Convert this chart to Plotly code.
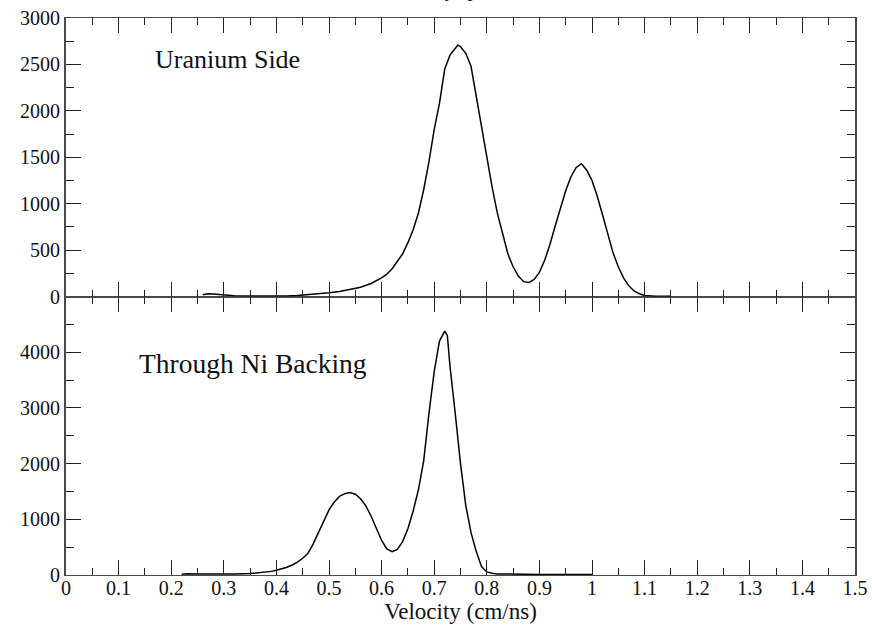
import plotly.graph_objects as go

# Velocity spectrum, uranium side of the target
uranium_v = [0.26, 0.27, 0.28, 0.29, 0.30, 0.32, 0.34, 0.36, 0.38, 0.40, 0.42, 0.44,
             0.46, 0.48, 0.50, 0.52, 0.54, 0.56, 0.58, 0.60, 0.61, 0.62, 0.63, 0.64,
             0.65, 0.66, 0.67, 0.68, 0.69, 0.70, 0.71, 0.72, 0.73, 0.74, 0.745, 0.75,
             0.76, 0.77, 0.78, 0.79, 0.80, 0.81, 0.82, 0.83, 0.84, 0.85, 0.86, 0.87,
             0.88, 0.89, 0.90, 0.91, 0.92, 0.93, 0.94, 0.95, 0.96, 0.97, 0.98, 0.99,
             1.00, 1.01, 1.02, 1.03, 1.04, 1.05, 1.06, 1.07, 1.08, 1.09, 1.10, 1.12,
             1.15]
uranium_counts = [20, 30, 28, 22, 15, 8, 5, 3, 2, 3, 5, 10,
                  18, 28, 40, 55, 75, 100, 140, 200, 240, 300, 380, 460,
                  580, 720, 900, 1150, 1450, 1800, 2080, 2450, 2600, 2680, 2710, 2690,
                  2620, 2480, 2150, 1800, 1480, 1180, 900, 680, 460, 320, 220, 160,
                  150, 185, 260, 390, 560, 760, 960, 1140, 1290, 1390, 1430, 1360,
                  1250, 1080, 880, 670, 470, 320, 200, 115, 60, 30, 12, 4,
                  2]

# Velocity spectrum measured through the Ni backing
nickel_v = [0.22, 0.23, 0.25, 0.27, 0.30, 0.32, 0.35, 0.37, 0.39, 0.40, 0.41, 0.42,
            0.43, 0.44, 0.45, 0.46, 0.47, 0.48, 0.49, 0.50, 0.51, 0.52, 0.53, 0.54,
            0.55, 0.56, 0.57, 0.58, 0.59, 0.60, 0.61, 0.62, 0.63, 0.64, 0.65, 0.66,
            0.67, 0.68, 0.69, 0.70, 0.71, 0.72, 0.725, 0.73, 0.74, 0.75, 0.76, 0.77,
            0.78, 0.79, 0.80, 0.81, 0.82, 0.85, 0.90, 0.95, 1.00]
nickel_counts = [15, 22, 20, 18, 20, 18, 25, 40, 65, 85, 110, 140,
                 180, 230, 300, 390, 560, 760, 960, 1170, 1310, 1410, 1460, 1480,
                 1450, 1370, 1240, 1060, 840, 620, 470, 420, 460, 600, 830, 1150,
                 1530, 2050, 2900, 3650, 4200, 4380, 4300, 3750, 2900, 2000, 1250, 760,
                 420, 150, 55, 30, 20, 12, 10, 9, 8]

x_ticks = [round(0.1 * i, 1) for i in range(16)]
x_labels = ["0", "0.1", "0.2", "0.3", "0.4", "0.5", "0.6", "0.7", "0.8", "0.9",
            "1", "1.1", "1.2", "1.3", "1.4", "1.5"]
top_y_ticks = [0, 500, 1000, 1500, 2000, 2500, 3000]
bottom_y_ticks = [0, 1000, 2000, 3000, 4000]

SERIF = "Liberation Serif"
AXIS_COLOR = "#4a4a4a"
TICK_COLOR = "#222222"
TEXT_COLOR = "#111111"

fig = go.Figure()
fig.add_trace(go.Scatter(x=uranium_v, y=uranium_counts, mode="lines",
                         line=dict(color="black", width=1.5),
                         xaxis="x2", yaxis="y2", showlegend=False))
fig.add_trace(go.Scatter(x=nickel_v, y=nickel_counts, mode="lines",
                         line=dict(color="black", width=1.5),
                         xaxis="x", yaxis="y", showlegend=False))

common_x = dict(range=[0, 1.5], ticks="inside", ticklen=15, tickwidth=1,
                tickcolor=TICK_COLOR, showline=True, linecolor=AXIS_COLOR,
                linewidth=1, mirror="allticks", showgrid=False, zeroline=False,
                automargin=False,
                tickmode="array", tickvals=x_ticks, ticktext=x_labels,
                minor=dict(ticks="inside", ticklen=7, tickcolor=TICK_COLOR,
                           tickmode="linear", tick0=0, dtick=0.05, showgrid=False))
common_y = dict(ticks="inside", ticklen=15, tickwidth=1, tickcolor=TICK_COLOR,
                showline=True, linecolor=AXIS_COLOR, linewidth=1.8,
                mirror="allticks", showgrid=False, zeroline=False,
                automargin=False,
                tickfont=dict(family=SERIF, size=20, color=TEXT_COLOR))

fig.update_layout(
    width=872, height=627,
    margin=dict(l=66, r=17, t=18, b=52, autoexpand=False),
    paper_bgcolor="white", plot_bgcolor="white",
    font=dict(family=SERIF, color=TEXT_COLOR),
    xaxis=dict(common_x, anchor="y", domain=[0, 1], ticklabelstandoff=-5,
               tickfont=dict(family=SERIF, size=20, color=TEXT_COLOR),
               title=dict(text="Velocity (cm/ns)", standoff=0,
                          font=dict(family=SERIF, size=23, color=TEXT_COLOR))),
    xaxis2=dict(common_x, anchor="y2", matches="x", showticklabels=False),
    yaxis=dict(common_y, domain=[0, 0.5], range=[0, 5000], anchor="x",
               tickmode="array", tickvals=bottom_y_ticks,
               minor=dict(ticks="inside", ticklen=8, tickcolor=TICK_COLOR,
                          tickmode="linear", tick0=0, dtick=500, showgrid=False)),
    yaxis2=dict(common_y, domain=[0.5, 1], range=[0, 3000], anchor="x2",
                tickmode="array", tickvals=top_y_ticks,
                minor=dict(ticks="inside", ticklen=8, tickcolor=TICK_COLOR,
                           tickmode="linear", tick0=0, dtick=250, showgrid=False)),
    annotations=[
        dict(text="Uranium Side", x=0.165, y=2550, xref="x2", yref="y2",
             xanchor="left", yanchor="middle", showarrow=False,
             font=dict(family=SERIF, size=26, color=TEXT_COLOR)),
        dict(text="Through Ni Backing", x=0.135, y=3800, xref="x", yref="y",
             xanchor="left", yanchor="middle", showarrow=False,
             font=dict(family=SERIF, size=27.5, color=TEXT_COLOR)),
        dict(text="Velocity spectrum", x=0.5, y=1, xref="paper", yref="paper",
             xanchor="center", yanchor="bottom", yshift=15, showarrow=False,
             font=dict(family=SERIF, size=20, color=TEXT_COLOR)),
    ],
)

fig.write_html("out.html")
